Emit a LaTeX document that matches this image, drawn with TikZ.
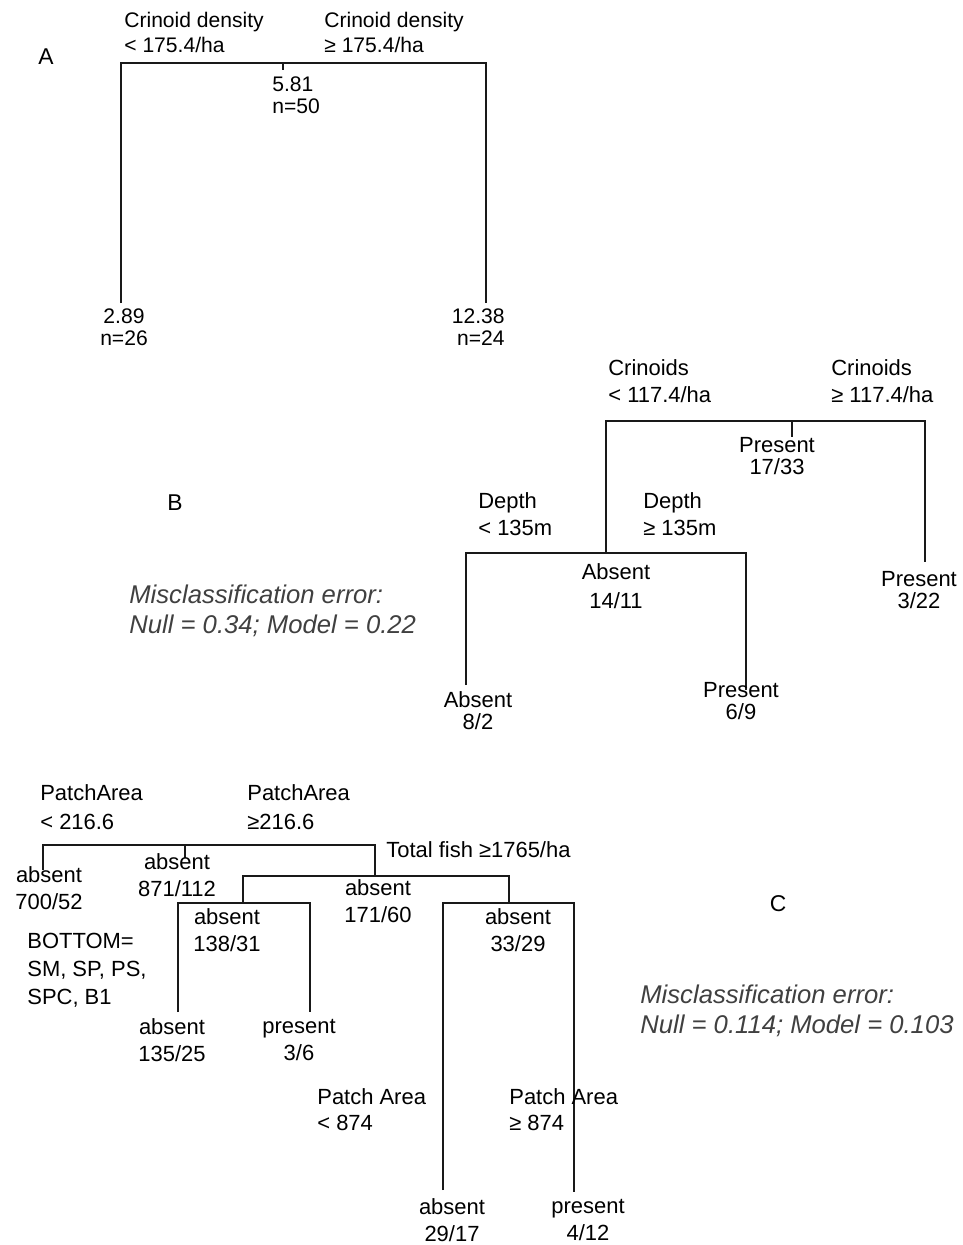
\documentclass[tikz,border=0pt]{standalone}
\usepackage{fontspec}
\setmainfont{Liberation Sans}
\usepackage{tikz}

\begin{document}
\begin{tikzpicture}[x=0.02cm, y=-0.02cm,
  lbl/.style={align=center, inner sep=0pt, font=\fontsize{12.5}{12.5}\selectfont},
  lblc/.style={align=center, inner sep=0pt, font=\fontsize{12.5}{15.3}\selectfont},
  split/.style={align=left, anchor=west, inner sep=0pt, font=\fontsize{12.5}{14.9}\selectfont},
  panel/.style={inner sep=0pt, font=\fontsize{13}{15}\selectfont},
  err/.style={align=left, anchor=west, inner sep=0pt, text=black!75,
              font=\fontsize{14.6}{17.4}\selectfont\itshape},
  branch/.style={line width=1.4pt, black!90}]
  \useasboundingbox (0,0) rectangle (963,1245);

  % A: regression tree
  \node[panel] (pA) at (46,57) {A};
  \node[split, font=\fontsize{12}{14.2}\selectfont] (aLt) at (124,32) {Crinoid density\\< 175.4/ha};
  \node[split, font=\fontsize{12}{14.2}\selectfont] (aGe) at (324,32) {Crinoid density\\≥ 175.4/ha};
  \node[lbl, align=left, anchor=west, font=\fontsize{12}{12.5}\selectfont] (aRoot) at (272,95) {5.81\\n=50};
  \coordinate (aS) at (283,63);
  \coordinate (aL) at (121,303);
  \coordinate (aR) at (486,303);
  \draw[branch] (aL) |- (aS) -| (aR);
  \draw[branch] (aS) -- ++(0,7);
  \node[lbl, font=\fontsize{12}{12.5}\selectfont] (a1) at (124,327) {2.89\\n=26};
  \node[lbl, align=right, anchor=east, font=\fontsize{12}{12.5}\selectfont] (a2) at (505,327) {12.38\\n=24};

  % B: classification tree
  \node[panel] (pB) at (175,503) {B};
  \node[err] (eB) at (129,611) {Misclassification error:\\Null = 0.34; Model = 0.22};
  \node[split, font=\fontsize{12.5}{15.3}\selectfont] (bLt) at (608,381) {Crinoids\\< 117.4/ha};
  \node[split, font=\fontsize{12.5}{15.3}\selectfont] (bGe) at (831,381) {Crinoids\\≥ 117.4/ha};
  \coordinate (bS) at (792,421);
  \coordinate (bS2) at (606,553);
  \coordinate (bR) at (925,562);
  \draw[branch] (bS2) |- (bS) -| (bR);
  \draw[branch] (bS) -- ++(0,16);
  \node[lbl] (bRoot) at (777,456) {Present\\17/33};
  \node[lbl] (b3) at (919,590) {Present\\3/22};
  % depth split
  \node[split, font=\fontsize{12.5}{15.3}\selectfont] (bDlt) at (478,514) {Depth\\< 135m};
  \node[split, font=\fontsize{12.5}{15.3}\selectfont] (bDge) at (643,514) {Depth\\≥ 135m};
  \coordinate (bLL) at (466,685);
  \coordinate (bLR) at (746,690);
  \draw[branch] (bLL) |- (bS2) -| (bLR);
  \node[lbl, font=\fontsize{12.5}{16.4}\selectfont] (bMid) at (616,586) {Absent\\14/11};
  \node[lbl] (b1) at (478,711) {Absent\\8/2};
  \node[lbl] (b2) at (741,701) {Present\\6/9};

  % C: classification tree
  \node[panel] (pC) at (778,904) {C};
  \node[err] (eC) at (640,1011) {Misclassification error:\\Null = 0.114; Model = 0.103};
  \node[split, font=\fontsize{12.5}{16.4}\selectfont] (cLt) at (40,807) {PatchArea\\< 216.6};
  \node[split, font=\fontsize{12.5}{16.4}\selectfont] (cGe) at (247,807) {PatchArea\\≥216.6};
  \coordinate (cS) at (185,845);
  \coordinate (cL) at (43,870);
  \coordinate (cS2) at (375,876);
  \draw[branch] (cL) |- (cS) -| (cS2);
  \draw[branch] (cS) -- ++(0,13);
  \node[lblc] (c1) at (49,888) {absent\\700/52};
  \node[lblc] (cRoot) at (177,875) {absent\\871/112};
  \node[split] (cTf) at (386,850) {Total fish ≥1765/ha};
  % total fish split
  \coordinate (cS3) at (243,903);
  \coordinate (cS4) at (509,903);
  \draw[branch] (cS3) |- (cS2) -| (cS4);
  \node[lblc] (cMid) at (378,901) {absent\\171/60};
  % bottom split
  \coordinate (c2a) at (178,1012);
  \coordinate (c2b) at (310,1012);
  \draw[branch] (c2a) |- (cS3) -| (c2b);
  \node[lblc] (cA) at (227,930) {absent\\138/31};
  \node[split, font=\fontsize{12.5}{15.9}\selectfont] (cBot) at (27,970) {BOTTOM=\\SM, SP, PS,\\SPC, B1};
  \node[lblc] (c2) at (172,1040) {absent\\135/25};
  \node[lblc] (c3) at (299,1040) {present\\3/6};
  % patch area split
  \coordinate (c4a) at (443,1190);
  \coordinate (c4b) at (574,1192);
  \draw[branch] (c4a) |- (cS4) -| (c4b);
  \node[lblc] (cB) at (518,930) {absent\\33/29};
  \node[split] (cPlt) at (317,1110) {Patch Area\\< 874};
  \node[split] (cPge) at (509,1110) {Patch Area\\≥ 874};
  \node[lblc] (c4) at (452,1220) {absent\\29/17};
  \node[lblc] (c5) at (588,1220) {present\\4/12};
\end{tikzpicture}
\end{document}
